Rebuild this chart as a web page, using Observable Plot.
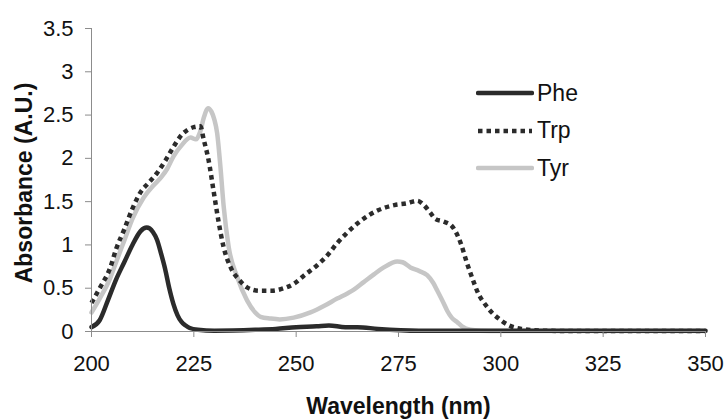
<!DOCTYPE html>
<html>
<head>
<meta charset="utf-8">
<script src="https://cdn.jsdelivr.net/npm/d3@7"></script>
<script src="https://cdn.jsdelivr.net/npm/@observablehq/plot@0.6"></script>
<style>
  html, body { margin: 0; padding: 0; background: #fff; }
  #wrap { position: relative; width: 727px; height: 419px; font-family: "Liberation Sans", Arial, sans-serif; }
  #legend { position: absolute; left: 476px; top: 75px; }
  .item { position: absolute; left: 0; height: 36px; display: flex; align-items: center; white-space: nowrap; font-size: 23px; color: #111; }
  .item svg { margin-right: 3px; }
</style>
</head>
<body>
<div id="wrap"><div id="legend"></div></div>
<script>
// ---- data ----
const seriesNames = ["Phe", "Trp", "Tyr"];
const xTicks = [200, 225, 250, 275, 300, 325, 350];
const yTicks = [0, 0.5, 1, 1.5, 2, 2.5, 3, 3.5];
const xLabel = "Wavelength (nm)";
const yLabel = "Absorbance (A.U.)";

const pheWl  = [200, 202, 204, 206, 208, 210, 212, 213.5, 215, 216, 217, 218, 219, 220, 221, 222, 223, 224, 226, 230, 240, 245, 250, 255, 258, 262, 265, 270, 280, 300, 350];
const pheAbs = [0.05, 0.13, 0.36, 0.6, 0.8, 1.0, 1.16, 1.2, 1.15, 1.06, 0.9, 0.72, 0.5, 0.32, 0.19, 0.11, 0.07, 0.04, 0.02, 0.01, 0.02, 0.03, 0.05, 0.06, 0.07, 0.05, 0.05, 0.03, 0.01, 0.01, 0.01];

const trpWl  = [200, 202, 204.6, 206, 208, 210, 212, 214, 216, 218, 220, 222, 223.5, 225, 226.6, 227.4, 228.6, 229.8, 231, 232.3, 234, 236, 238, 241, 244, 247, 249.4, 252, 255, 258, 260, 262, 265, 268, 270, 274, 277, 279.6, 281, 282.8, 284, 286, 288, 289, 290.2, 291.8, 293, 294.2, 296.7, 300, 302, 305, 310, 320, 350];
const trpAbs = [0.33, 0.5, 0.74, 0.95, 1.18, 1.42, 1.61, 1.72, 1.83, 1.97, 2.13, 2.27, 2.33, 2.36, 2.37, 2.22, 1.98, 1.63, 1.28, 0.97, 0.74, 0.6, 0.51, 0.47, 0.47, 0.5, 0.55, 0.65, 0.76, 0.9, 1.02, 1.12, 1.25, 1.35, 1.4, 1.46, 1.48, 1.51, 1.47, 1.37, 1.3, 1.27, 1.22, 1.15, 1.02, 0.78, 0.62, 0.47, 0.28, 0.13, 0.07, 0.03, 0.01, 0.005, 0.005];

const tyrWl  = [200, 202, 204.6, 206, 208, 210, 212.8, 215, 217, 218.5, 220, 222, 224.2, 225.5, 226.5, 227.5, 228.5, 229.3, 230, 230.7, 231.5, 232.3, 233.5, 235.6, 238, 240, 241.3, 243.7, 246, 249.4, 253.5, 257, 260, 262.5, 264, 266.5, 269, 271.4, 274.7, 276, 277.9, 280, 282, 283.5, 284.5, 286, 286.9, 288, 289.3, 290.5, 292.6, 295, 300, 350];
const tyrAbs = [0.22, 0.38, 0.62, 0.8, 1.05, 1.3, 1.55, 1.68, 1.78, 1.88, 2.02, 2.15, 2.24, 2.22, 2.3, 2.48, 2.58, 2.54, 2.45, 2.29, 1.9, 1.44, 0.98, 0.63, 0.36, 0.22, 0.17, 0.15, 0.14, 0.16, 0.22, 0.3, 0.38, 0.44, 0.48, 0.57, 0.66, 0.74, 0.81, 0.8, 0.74, 0.7, 0.65, 0.56, 0.47, 0.33, 0.24, 0.16, 0.11, 0.06, 0.02, 0.01, 0.005, 0.005];

// ---- build tables ----
const toRows = (wl, ab) => wl.map((w, i) => ({wl: w, a: ab[i]}));
const phe = toRows(pheWl, pheAbs);
const trp = toRows(trpWl, trpAbs);
const tyr = toRows(tyrWl, tyrAbs);

const styles = {
  Phe: {stroke: "#2b2b2b", strokeWidth: 4.5, strokeDasharray: null},
  Trp: {stroke: "#2b2b2b", strokeWidth: 4.5, strokeDasharray: "4.5,4"},
  Tyr: {stroke: "#c6c6c6", strokeWidth: 4.5, strokeDasharray: null}
};

const axisGrey = "#8c8c8c";

const chart = Plot.plot({
  width: 727,
  height: 419,
  marginLeft: 91,
  marginRight: 22,
  marginTop: 28,
  marginBottom: 88,
  style: {fontFamily: "'Liberation Sans', Arial, sans-serif", fontSize: "22px", background: "#fff", color: "#111"},
  x: {domain: [200, 350]},
  y: {domain: [0, 3.5]},
  marks: [
    Plot.line(tyr, {x: "wl", y: "a", curve: "monotone-x", ...styles.Tyr, strokeLinejoin: "round"}),
    Plot.line(trp, {x: "wl", y: "a", curve: "monotone-x", ...styles.Trp, strokeLinecap: "butt"}),
    Plot.line(phe, {x: "wl", y: "a", curve: "monotone-x", ...styles.Phe, strokeLinejoin: "round", strokeLinecap: "round"}),
    Plot.ruleY([0], {stroke: axisGrey, strokeWidth: 1}),
    Plot.ruleX([200], {stroke: axisGrey, strokeWidth: 1}),
    Plot.axisX({ticks: xTicks, tickSize: 6, tickPadding: 18, stroke: axisGrey, fill: "#111", fontSize: 22, label: null, tickFormat: d => String(d)}),
    Plot.axisY({ticks: yTicks, tickSize: 6, tickPadding: 12, stroke: axisGrey, fill: "#111", fontSize: 22, label: null, tickFormat: d => String(d)}),
    Plot.text([xLabel], {frameAnchor: "bottom", text: d => d, dy: 66, fontSize: 23, fontWeight: "bold", fill: "#111", lineAnchor: "top"}),
    Plot.text([yLabel], {frameAnchor: "left", text: d => d, dx: -67, dy: 3, rotate: -90, textAnchor: "middle", fontSize: 23, fontWeight: "bold", fill: "#111"})
  ]
});

document.getElementById("wrap").prepend(chart);

// ---- legend (HTML overlay) ----
const legend = document.getElementById("legend");
seriesNames.forEach((name, i) => {
  const s = styles[name];
  const item = document.createElement("div");
  item.className = "item";
  item.style.top = (i * 37.5) + "px";
  const sw = d3.create("svg").attr("width", 58).attr("height", 10);
  sw.append("line")
    .attr("x1", 2).attr("x2", 56).attr("y1", 5).attr("y2", 5)
    .attr("stroke", s.stroke).attr("stroke-width", s.strokeWidth)
    .attr("stroke-dasharray", s.strokeDasharray)
    .attr("stroke-linecap", s.strokeDasharray ? "butt" : "round");
  item.appendChild(sw.node());
  const t = document.createElement("span");
  t.textContent = name;
  item.appendChild(t);
  legend.appendChild(item);
});
</script>
</body>
</html>
